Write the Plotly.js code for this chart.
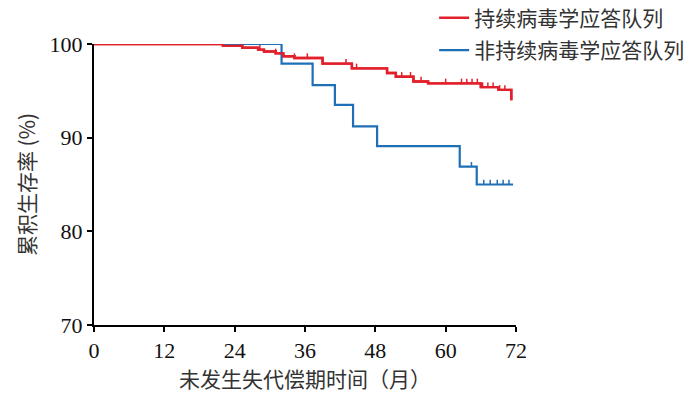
<!DOCTYPE html>
<html><head><meta charset="utf-8">
<script src="https://cdn.plot.ly/plotly-3.0.1.min.js"></script>
<style>html,body{margin:0;padding:0;background:#fff}#c{width:700px;height:394px}</style>
</head><body><div id="c"></div>
<script>
// Sustained virological response cohort (red)
const svrTime = [0, 22, 25.3, 28, 29, 31, 32.3, 34.2, 39, 44, 50, 51.5, 54.5, 57, 66, 69, 71.2];
const svrSurv = [100, 99.8, 99.6, 99.4, 99.2, 99.0, 98.7, 98.5, 97.9, 97.4, 96.9, 96.5, 96.0, 95.8, 95.4, 95.1, 94.0];
const svrCensor = [22, 25.3, 28.3, 31, 34.2, 36.4, 43, 44.8, 52.5, 54, 55.8, 60, 62.7, 63.6, 64.5, 65.4, 66.3, 67.2, 68.1, 69.2, 70.1];
// Non-sustained virological response cohort (blue)
const nsvrTime = [0, 32, 37.3, 41.1, 44.2, 48.3, 62.4, 65.3, 71.5];
const nsvrSurv = [100, 97.9, 95.6, 93.5, 91.2, 89.1, 86.9, 85.0, 85.0];
const nsvrCensor = [64.4, 66.5, 67.6, 68.8, 69.8, 70.8];

const names = ['持续病毒学应答队列', '非持续病毒学应答队列'];
const xTicks = [0, 12, 24, 36, 48, 60, 72];
const yTicks = [70, 80, 90, 100];
const red = '#e2202b', blue = '#1f6fb6';

function survAt(times, surv, t) {
  let v = surv[0];
  for (let i = 0; i < times.length; i++) if (times[i] <= t) v = surv[i];
  return v;
}
function censorTrace(times, surv, cens, color) {
  const x = [], y = [];
  cens.forEach(t => { const s = survAt(times, surv, t); x.push(t, t, null); y.push(s, s + 0.5, null); });
  return {x, y, mode: 'lines', line: {color, width: 1.5}, showlegend: false, hoverinfo: 'skip'};
}

const traces = [
  {x: svrTime, y: svrSurv, name: names[0], mode: 'lines', line: {shape: 'hv', color: red, width: 2.4}, legendgroup: 'a'},
  {x: nsvrTime, y: nsvrSurv, name: names[1], mode: 'lines', line: {shape: 'hv', color: blue, width: 2.2}, legendgroup: 'b'},
  censorTrace(svrTime, svrSurv, svrCensor, red),
  censorTrace(nsvrTime, nsvrSurv, nsvrCensor, blue)
];
traces.push(Object.assign({}, traces[0], {showlegend: false}));

const cjk = '"Noto Sans CJK SC", "Noto Sans", sans-serif';
const serif = '"Liberation Serif", "Times New Roman", serif';
const layout = {
  width: 700, height: 394,
  margin: {l: 94, r: 184, t: 44, b: 69, autoexpand: false},
  paper_bgcolor: '#fff', plot_bgcolor: '#fff',
  showlegend: true,
  legend: {x: 0.806, y: 1.165, xanchor: 'left', yanchor: 'top', font: {family: cjk, size: 21, color: '#333'},
           tracegroupgap: 2, bgcolor: 'rgba(0,0,0,0)', itemwidth: 30},
  xaxis: {range: [0, 72], tickvals: xTicks, ticktext: xTicks.map(String), showgrid: false, zeroline: false,
          showline: true, linecolor: '#000', linewidth: 2, ticks: 'outside', ticklen: 5, tickwidth: 2, tickcolor: '#000',
          tickfont: {family: serif, size: 22, color: '#111'},
          title: {text: '未发生失代偿期时间（月）', font: {family: cjk, size: 21, color: '#333'}, standoff: 5}},
  yaxis: {range: [70, 100], tickvals: yTicks, ticktext: yTicks.map(String), showgrid: false, zeroline: false,
          showline: true, linecolor: '#000', linewidth: 2, ticks: 'outside', ticklen: 5, tickwidth: 2, tickcolor: '#000',
          tickfont: {family: serif, size: 22, color: '#111'},
          title: {text: '累积生存率 (%)', font: {family: cjk, size: 21, color: '#333'}, standoff: 8}}
};
Plotly.newPlot('c', traces, layout, {displayModeBar: false, staticPlot: true});
</script></body></html>
